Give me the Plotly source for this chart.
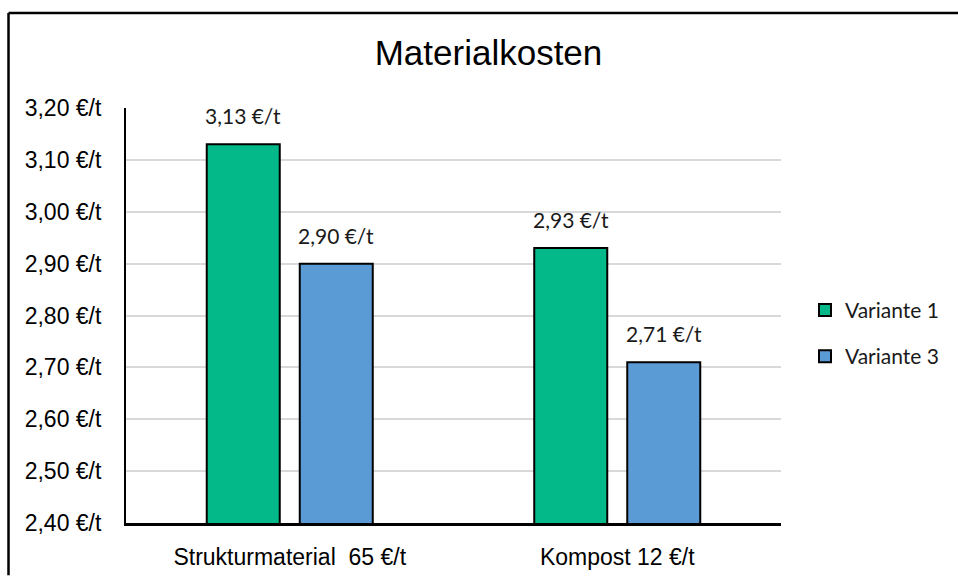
import plotly.graph_objects as go

# Material costs per tonne for two variants
categories = ["Strukturmaterial  65 €/t", "Kompost 12 €/t"]
variante_1 = [3.13, 2.93]
variante_3 = [2.90, 2.71]
series_names = ["Variante 1", "Variante 3"]
y_ticks = [2.40, 2.50, 2.60, 2.70, 2.80, 2.90, 3.00, 3.10, 3.20]

colors = ["#03B98A", "#5B9BD5"]
W, H = 958, 582
L, R, T, B = 126, 781, 108, 529  # plot area in pixels


def px_x(p):
    return (p - L) / (R - L)


def px_y(p):
    return (B - p) / (B - T)


def fmt(v):
    return f"{v:.2f}".replace(".", ",") + " €/t"


fig = go.Figure()
for name, vals, col in zip(series_names, [variante_1, variante_3], colors):
    fig.add_trace(go.Bar(
        x=categories, y=vals, name=name, legendgroup=name,
        marker=dict(color=col, line=dict(color="black", width=2)),
        hoverinfo="skip",
    ))

# value labels above each bar
annotations = []
slot_px = 93
for si, vals in enumerate([variante_1, variante_3]):
    shift = (si - 0.5) * slot_px
    for cat, v in zip(categories, vals):
        annotations.append(dict(
            x=cat, y=v, xref="x", yref="y", text=fmt(v), showarrow=False,
            xshift=shift, yshift=14, yanchor="bottom",
            font=dict(family="Lato", size=21, color="#1a1a1a"),
        ))

# chart frame: top and left edges
frame = [
    dict(type="line", xref="paper", yref="paper",
         x0=px_x(8.5), x1=px_x(958), y0=px_y(11.5), y1=px_y(11.5),
         line=dict(color="black", width=2.5), layer="above"),
    dict(type="line", xref="paper", yref="paper",
         x0=px_x(8.5), x1=px_x(8.5), y0=px_y(11.5), y1=px_y(582),
         line=dict(color="black", width=2.5), layer="above"),
]

fig.update_layout(
    width=W, height=H,
    margin=dict(l=L, r=W - R, t=T, b=H - B),
    paper_bgcolor="white", plot_bgcolor="white",
    barmode="group", bargap=0.432, bargroupgap=0.215,
    title=dict(text="Materialkosten", x=488.5 / W, xref="container",
               y=1 - 53 / H, yref="container", xanchor="center", yanchor="middle",
               font=dict(family="Liberation Sans", size=35, color="black")),
    showlegend=True,
    legend=dict(x=px_x(805), y=px_y(336.5), xanchor="left", yanchor="middle",
                traceorder="grouped", tracegroupgap=16,
                font=dict(family="Lato", size=21, color="#1a1a1a"),
                bgcolor="rgba(0,0,0,0)"),
    annotations=annotations,
    shapes=frame,
)

fig.update_yaxes(
    range=[2.40, 3.20], tickvals=y_ticks, ticktext=[fmt(v) for v in y_ticks],
    showgrid=True, gridcolor="#d9d9d9", gridwidth=2,
    showline=True, linecolor="black", linewidth=2,
    zeroline=False, ticks="", ticklabelstandoff=18,
    tickfont=dict(family="Liberation Sans", size=23, color="black"),
)
fig.update_xaxes(
    showline=True, linecolor="black", linewidth=2.5, ticks="",
    ticklabelstandoff=12,
    tickfont=dict(family="Liberation Sans", size=23, color="black"),
)

fig.write_html("out.html")
